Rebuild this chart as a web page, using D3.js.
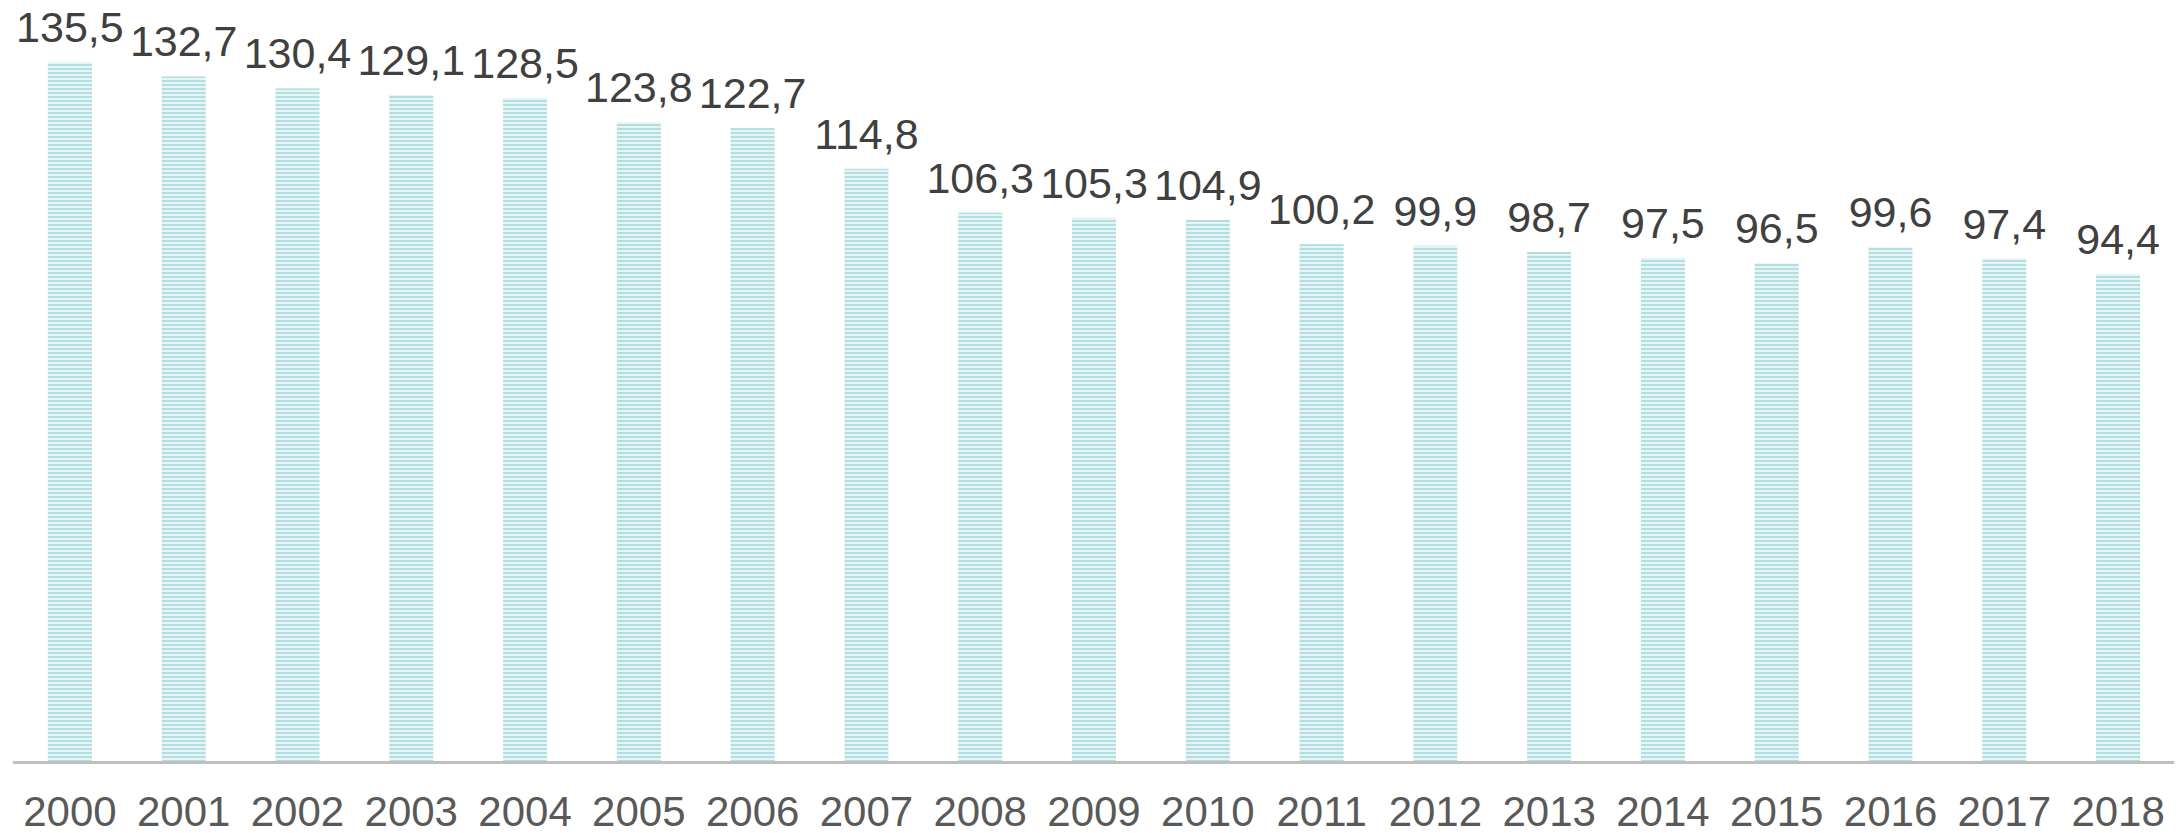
<!DOCTYPE html>
<html>
<head>
<meta charset="utf-8">
<script src="https://cdn.jsdelivr.net/npm/d3@7"></script>
<style>
  body { margin: 0; background: #fff; }
  svg { display: block; font-family: "Liberation Sans", Arial, sans-serif; }
</style>
</head>
<body>
<svg id="canvas" width="2183" height="833"></svg>
<script>
// data
const years = ["2000", "2001", "2002", "2003", "2004", "2005", "2006", "2007", "2008", "2009",
               "2010", "2011", "2012", "2013", "2014", "2015", "2016", "2017", "2018"];
const values = [135.5, 132.7, 130.4, 129.1, 128.5, 123.8, 122.7, 114.8, 106.3, 105.3,
                104.9, 100.2, 99.9, 98.7, 97.5, 96.5, 99.6, 97.4, 94.4];

const svg = d3.select('#canvas');
const baseY = 761;

const x = d3.scaleBand()
    .domain(years)
    .range([13, 2175])
    .paddingInner(0.613)
    .paddingOuter(0.3065);

const y = d3.scaleLinear()
    .domain([0, 135.5])
    .range([baseY, 62]);

// striped fill like the original
const pattern = svg.append('defs').append('pattern')
    .attr('id', 'stripes')
    .attr('patternUnits', 'userSpaceOnUse')
    .attr('width', 8)
    .attr('height', 4);
pattern.append('rect')
    .attr('width', 8).attr('height', 4)
    .attr('fill', '#e5f4f5');
pattern.append('rect')
    .attr('y', 0)
    .attr('width', 8).attr('height', 2)
    .attr('fill', '#b4dfe2');

svg.selectAll('.bar')
    .data(values)
    .enter()
    .append('rect')
    .attr('class', 'bar')
    .attr('x', (d, i) => x(years[i]))
    .attr('y', d => y(d))
    .attr('width', x.bandwidth())
    .attr('height', d => baseY - y(d))
    .attr('fill', 'url(#stripes)');

// value labels
svg.selectAll('.val')
    .data(values)
    .enter()
    .append('text')
    .attr('class', 'val')
    .attr('x', (d, i) => x(years[i]) + x.bandwidth() / 2)
    .attr('y', d => y(d) - 20)
    .attr('text-anchor', 'middle')
    .attr('font-size', 43)
    .attr('fill', '#404040')
    .text(d => d.toFixed(1).replace('.', ','));

// x axis
const axis = svg.append('g')
    .attr('transform', `translate(0,${baseY})`)
    .call(d3.axisBottom(x).tickSize(0).tickPadding(0));
axis.select('.domain')
    .attr('stroke', '#bfbfbf')
    .attr('stroke-width', 3)
    .attr('d', 'M13,1.5H2174');
axis.selectAll('text')
    .attr('font-size', 42)
    .attr('font-family', '"Liberation Sans", Arial, sans-serif')
    .attr('fill', '#595959')
    .attr('dy', 0)
    .attr('y', 65);
</script>
</body>
</html>
